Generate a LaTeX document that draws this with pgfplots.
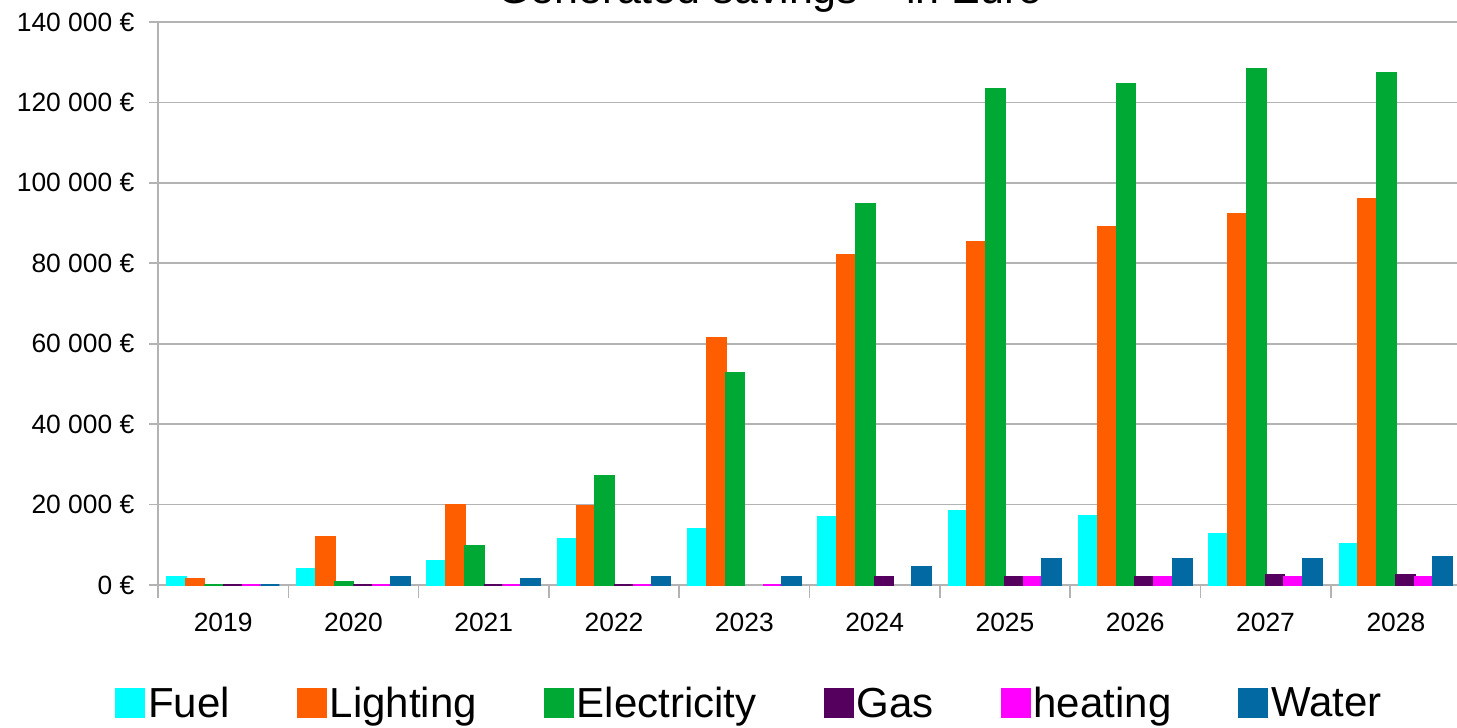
\documentclass[border=0pt]{standalone}
\usepackage{pgfplots}
\pgfplotsset{compat=1.18}
\usepackage{fontspec}
\setmainfont{Liberation Sans}
\definecolor{cFuel}{HTML}{00FFFF}
\definecolor{cLight}{HTML}{FF5E00}
\definecolor{cElec}{HTML}{00A933}
\definecolor{cGas}{HTML}{55005F}
\definecolor{cHeat}{HTML}{FF00FF}
\definecolor{cWater}{HTML}{0369A3}
\definecolor{cGrid}{HTML}{B3B3B3}
\begin{document}
\begin{tikzpicture}
\begin{axis}[
  at={(79pt,71.5pt)}, anchor=south west,
  scale only axis, width=651.5pt, height=281.5pt,
  xmin=-0.5, xmax=9.5, ymin=0, ymax=140000,
  ybar=0pt, bar width=0.144,
  axis x line*=bottom, axis y line*=left,
  axis line style={draw=cGrid, line width=0.8pt},
  ymajorgrids, grid style={draw=cGrid, line width=0.8pt},
  scaled y ticks=false,
  xtick={0,...,9},
  xticklabels={2019,2020,2021,2022,2023,2024,2025,2026,2027,2028},
  major x tick style={draw=none},
  minor xtick={-0.5,0.5,...,9.5},
  minor x tick style={draw=cGrid, line width=0.8pt},
  minor tick length=6.5pt,
  major tick length=4.3pt,
  tick align=outside,
  ytick={0,20000,...,140000},
  yticklabels={0 €,20 000 €,40 000 €,60 000 €,80 000 €,100 000 €,120 000 €,140 000 €},
  y tick style={draw=cGrid, line width=0.8pt},
  ticklabel style={font=\fontsize{13.2}{16}\selectfont},
  xticklabel style={yshift=-6pt},
  yticklabel style={xshift=-4pt},
  legend columns=6,
  legend style={at={(0.4543,-0.2114)}, anchor=center, draw=none, fill=none,
    font=\fontsize{21}{25}\selectfont,
    nodes={inner sep=1.5pt},
    /tikz/every even column/.append style={column sep=32pt}},
  legend image code/.code={\fill[#1] (0pt,-6.5pt) rectangle (14pt,7.5pt);},
  every axis plot/.append style={line width=1pt},
]
\addplot[fill=cFuel, draw=cFuel] coordinates {(0,2000) (1,4000) (2,5900) (3,11400) (4,14000) (5,17000) (6,18300) (7,17100) (8,12700) (9,10200)};
\addplot[fill=cLight, draw=cLight] coordinates {(0,1500) (1,12000) (2,20000) (3,19600) (4,61400) (5,82100) (6,85300) (7,89000) (8,92300) (9,95900)};
\addplot[fill=cElec, draw=cElec] coordinates {(0,0) (1,800) (2,9600) (3,27000) (4,52700) (5,94700) (6,123400) (7,124700) (8,128400) (9,127200)};
\addplot[fill=cGas, draw=cGas] coordinates {(0,0) (1,0) (2,0) (3,0) (5,2000) (6,2000) (7,2000) (8,2600) (9,2600)};
\addplot[fill=cHeat, draw=cHeat] coordinates {(0,0) (1,0) (2,0) (3,0) (4,0) (6,2000) (7,2000) (8,2000) (9,2000)};
\addplot[fill=cWater, draw=cWater] coordinates {(0,0) (1,2000) (2,1500) (3,2000) (4,2000) (5,4500) (6,6400) (7,6400) (8,6400) (9,7000)};
\legend{Fuel,Lighting,Electricity,Gas,heating,Water}
\end{axis}
\node[anchor=base, font=\fontsize{21.5}{26}\selectfont] at (385pt,362pt) {Generated savings – in Euro};
\pgfresetboundingbox
\path[use as bounding box] (0pt,0pt) rectangle (728.5pt,364pt);
\end{tikzpicture}
\end{document}
